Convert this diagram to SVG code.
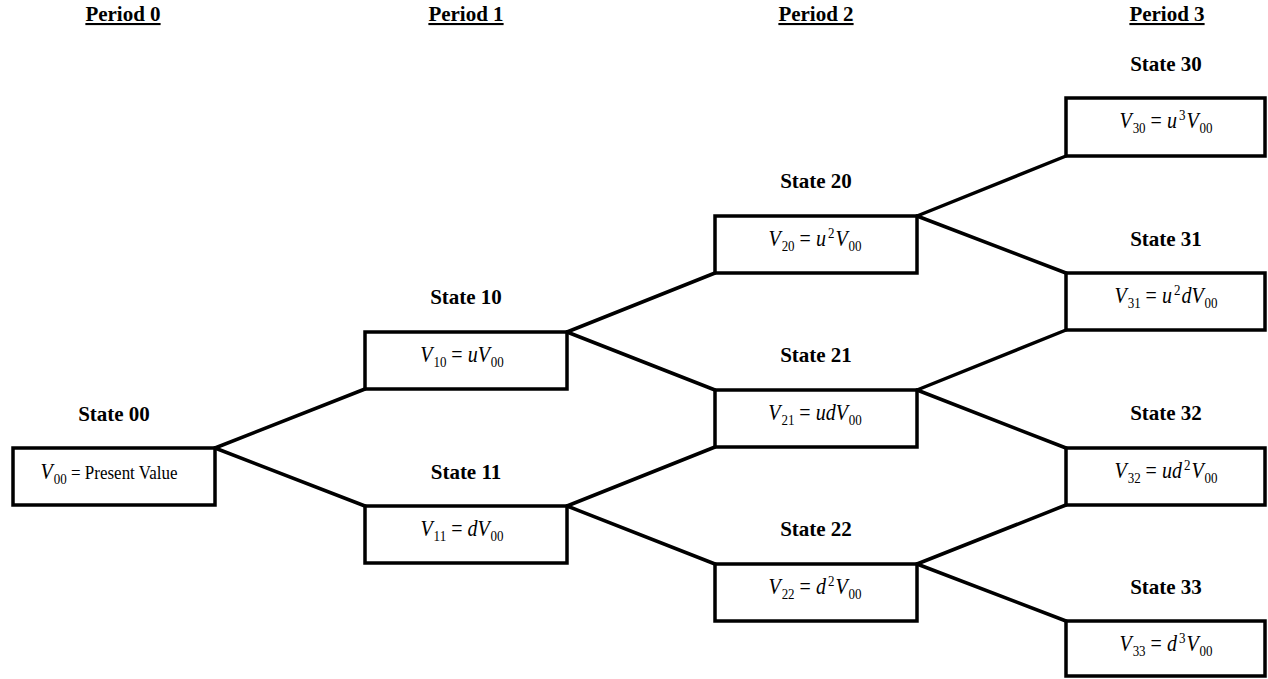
<svg xmlns="http://www.w3.org/2000/svg" width="1268" height="679" viewBox="0 0 1268 679">
<style>
.box{fill:#fff;stroke:#000;stroke-width:3.5}
.conn line{stroke:#000;stroke-width:3.5;stroke-linecap:round}
.hdr{font-family:"Liberation Serif",serif;font-weight:bold;font-size:21px;text-anchor:middle;text-decoration:underline}
.lbl{font-family:"Liberation Serif",serif;font-weight:bold;font-size:21px;text-anchor:middle}
.f{font-family:"Liberation Serif",serif;font-size:20px;text-anchor:middle;fill:#000}
.i{font-style:italic}
.s{font-size:13px;font-style:normal}
.pv{font-size:17px;font-style:normal}
</style>
<rect width="1268" height="679" fill="#fff"/>
<g id="headers">
<text class="hdr" x="123" y="21">Period 0</text>
<text class="hdr" x="466" y="21">Period 1</text>
<text class="hdr" x="816" y="21">Period 2</text>
<text class="hdr" x="1167" y="21">Period 3</text>
</g>
<g class="conn" id="connectors">
<line x1="215" y1="448" x2="365" y2="389"/>
<line x1="215" y1="448" x2="365" y2="506"/>
<line x1="567" y1="332" x2="715" y2="273"/>
<line x1="567" y1="332" x2="715" y2="390"/>
<line x1="567" y1="506" x2="715" y2="447"/>
<line x1="567" y1="506" x2="715" y2="564"/>
<line x1="917" y1="216" x2="1066" y2="156"/>
<line x1="917" y1="216" x2="1066" y2="273"/>
<line x1="917" y1="390" x2="1066" y2="330"/>
<line x1="917" y1="390" x2="1066" y2="448"/>
<line x1="917" y1="564" x2="1066" y2="505"/>
<line x1="917" y1="564" x2="1066" y2="621"/>
</g>
<g id="s00">
<text class="lbl" x="114" y="421">State 00</text>
<rect class="box" x="13" y="448" width="202" height="57"/>
<text class="f" transform="translate(109,479) scale(1,1.15)"><tspan class="i">V</tspan><tspan class="s" dx="1" dy="4">00</tspan><tspan class="pv" dy="-4"> = Present Value</tspan></text>
</g>
<g id="s10">
<text class="lbl" x="466" y="304">State 10</text>
<rect class="box" x="365" y="332" width="202" height="57"/>
<text class="f" transform="translate(462,362) scale(1,1.2)"><tspan class="i">V</tspan><tspan class="s" dx="1" dy="4">10</tspan><tspan dy="-4"> = </tspan><tspan class="i">uV</tspan><tspan class="s" dx="1" dy="4">00</tspan></text>
</g>
<g id="s11">
<text class="lbl" x="466" y="479">State 11</text>
<rect class="box" x="365" y="506" width="202" height="57"/>
<text class="f" transform="translate(462,536) scale(1,1.2)"><tspan class="i">V</tspan><tspan class="s" dx="1" dy="4">11</tspan><tspan dy="-4"> = </tspan><tspan class="i">dV</tspan><tspan class="s" dx="1" dy="4">00</tspan></text>
</g>
<g id="s20">
<text class="lbl" x="816" y="188">State 20</text>
<rect class="box" x="715" y="216" width="202" height="57"/>
<text class="f" transform="translate(815,246) scale(1,1.2)"><tspan class="i">V</tspan><tspan class="s" dx="1" dy="4">20</tspan><tspan dy="-4"> = </tspan><tspan class="i">u</tspan><tspan class="s" dx="2" dy="-7">2</tspan><tspan class="i" dx="1" dy="7">V</tspan><tspan class="s" dx="1" dy="4">00</tspan></text>
</g>
<g id="s21">
<text class="lbl" x="816" y="362">State 21</text>
<rect class="box" x="715" y="390" width="202" height="57"/>
<text class="f" transform="translate(815,420) scale(1,1.2)"><tspan class="i">V</tspan><tspan class="s" dx="1" dy="4">21</tspan><tspan dy="-4"> = </tspan><tspan class="i">udV</tspan><tspan class="s" dx="1" dy="4">00</tspan></text>
</g>
<g id="s22">
<text class="lbl" x="816" y="536">State 22</text>
<rect class="box" x="715" y="564" width="202" height="57"/>
<text class="f" transform="translate(815,594) scale(1,1.2)"><tspan class="i">V</tspan><tspan class="s" dx="1" dy="4">22</tspan><tspan dy="-4"> = </tspan><tspan class="i">d</tspan><tspan class="s" dx="2" dy="-7">2</tspan><tspan class="i" dx="1" dy="7">V</tspan><tspan class="s" dx="1" dy="4">00</tspan></text>
</g>
<g id="s30">
<text class="lbl" x="1166" y="71">State 30</text>
<rect class="box" x="1066" y="98" width="199" height="58"/>
<text class="f" transform="translate(1166,128) scale(1,1.2)"><tspan class="i">V</tspan><tspan class="s" dx="1" dy="4">30</tspan><tspan dy="-4"> = </tspan><tspan class="i">u</tspan><tspan class="s" dx="2" dy="-7">3</tspan><tspan class="i" dx="1" dy="7">V</tspan><tspan class="s" dx="1" dy="4">00</tspan></text>
</g>
<g id="s31">
<text class="lbl" x="1166" y="246">State 31</text>
<rect class="box" x="1066" y="273" width="199" height="57"/>
<text class="f" transform="translate(1166,303) scale(1,1.2)"><tspan class="i">V</tspan><tspan class="s" dx="1" dy="4">31</tspan><tspan dy="-4"> = </tspan><tspan class="i">u</tspan><tspan class="s" dx="2" dy="-7">2</tspan><tspan class="i" dx="1" dy="7">dV</tspan><tspan class="s" dx="1" dy="4">00</tspan></text>
</g>
<g id="s32">
<text class="lbl" x="1166" y="420">State 32</text>
<rect class="box" x="1066" y="448" width="199" height="57"/>
<text class="f" transform="translate(1166,478) scale(1,1.2)"><tspan class="i">V</tspan><tspan class="s" dx="1" dy="4">32</tspan><tspan dy="-4"> = </tspan><tspan class="i">ud</tspan><tspan class="s" dx="2" dy="-7">2</tspan><tspan class="i" dx="1" dy="7">V</tspan><tspan class="s" dx="1" dy="4">00</tspan></text>
</g>
<g id="s33">
<text class="lbl" x="1166" y="594">State 33</text>
<rect class="box" x="1066" y="621" width="199" height="55"/>
<text class="f" transform="translate(1166,651) scale(1,1.2)"><tspan class="i">V</tspan><tspan class="s" dx="1" dy="4">33</tspan><tspan dy="-4"> = </tspan><tspan class="i">d</tspan><tspan class="s" dx="2" dy="-7">3</tspan><tspan class="i" dx="1" dy="7">V</tspan><tspan class="s" dx="1" dy="4">00</tspan></text>
</g>
</svg>
